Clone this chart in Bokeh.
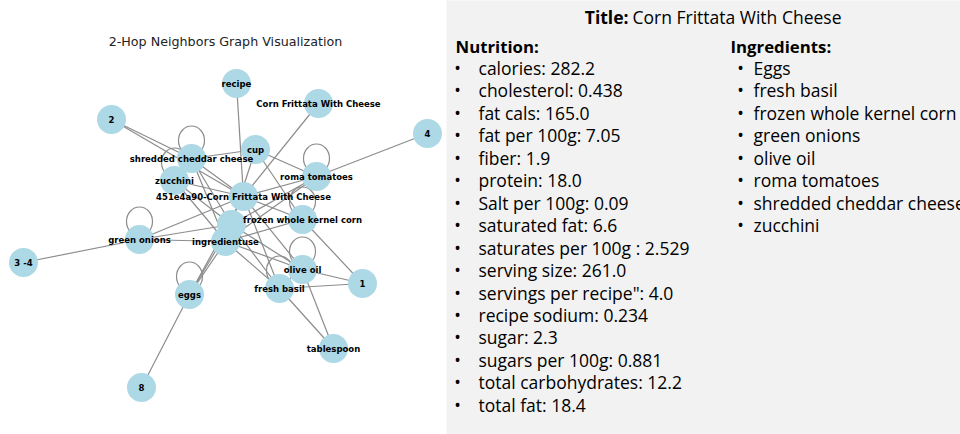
from bokeh.plotting import figure
from bokeh.models import Range1d, ColumnDataSource
from bokeh.embed import file_html
from bokeh.resources import INLINE
from bokeh.core.properties import value

# ---------------- data ----------------
graph_title = "2-Hop Neighbors Graph Visualization"
recipe_title = "Corn Frittata With Cheese"

node_names = ["recipe", "Corn Frittata With Cheese", "2", "4", "cup",
              "shredded cheddar cheese", "zucchini", "roma tomatoes",
              "451e4a90-Corn Frittata With Cheese", "frozen whole kernel corn",
              "use2", "ingredientuse", "green onions", "3 -4", "eggs",
              "olive oil", "fresh basil", "1", "tablespoon", "8"]
node_labels = ["recipe", "Corn Frittata With Cheese", "2", "4", "cup",
               "shredded cheddar cheese", "zucchini", "roma tomatoes",
               "451e4a90-Corn Frittata With Cheese", "frozen whole kernel corn",
               "", "ingredientuse", "green onions", "3 -4", "eggs",
               "olive oil", "fresh basil", "1", "tablespoon", "8"]
# layout positions
node_x = [236, 318, 111, 427, 255, 191, 174, 316, 243, 302,
          231, 225, 139, 23, 189, 302, 279, 362, 333, 141]
node_y = [83, 103, 119, 133, 149, 158, 180, 176, 196, 219,
          224, 241, 239, 262, 294, 269, 288, 283, 348, 387]

edge_src = ["recipe", "Corn Frittata With Cheese", "2", "2", "4", "3 -4", "8",
            "1", "1", "1", "tablespoon", "tablespoon",
            "cup", "cup", "cup", "cup",
            "451e4a90-Corn Frittata With Cheese", "451e4a90-Corn Frittata With Cheese",
            "451e4a90-Corn Frittata With Cheese", "451e4a90-Corn Frittata With Cheese",
            "451e4a90-Corn Frittata With Cheese", "451e4a90-Corn Frittata With Cheese",
            "451e4a90-Corn Frittata With Cheese", "451e4a90-Corn Frittata With Cheese",
            "ingredientuse", "ingredientuse", "ingredientuse", "ingredientuse",
            "ingredientuse", "ingredientuse", "ingredientuse", "ingredientuse",
            "use2", "use2", "use2", "use2", "use2", "use2", "use2"]
edge_dst = ["451e4a90-Corn Frittata With Cheese", "451e4a90-Corn Frittata With Cheese",
            "shredded cheddar cheese", "451e4a90-Corn Frittata With Cheese",
            "roma tomatoes", "green onions", "eggs",
            "olive oil", "fresh basil", "frozen whole kernel corn",
            "olive oil", "fresh basil",
            "shredded cheddar cheese", "roma tomatoes", "frozen whole kernel corn", "ingredientuse",
            "shredded cheddar cheese", "zucchini", "roma tomatoes", "frozen whole kernel corn",
            "green onions", "eggs", "olive oil", "fresh basil",
            "green onions", "eggs", "shredded cheddar cheese", "zucchini",
            "roma tomatoes", "frozen whole kernel corn", "olive oil", "fresh basil",
            "eggs", "zucchini", "shredded cheddar cheese", "roma tomatoes",
            "green onions", "fresh basil", "olive oil"]
loop_nodes = ["shredded cheddar cheese", "zucchini", "roma tomatoes",
              "frozen whole kernel corn", "green onions", "eggs", "olive oil",
              "fresh basil"]

nutrition_items = ["calories: 282.2", "cholesterol: 0.438", "fat cals: 165.0",
                   "fat per 100g: 7.05", "fiber: 1.9", "protein: 18.0",
                   "Salt per 100g: 0.09", "saturated fat: 6.6",
                   "saturates per 100g : 2.529", "serving size: 261.0",
                   'servings per recipe": 4.0', "recipe sodium: 0.234",
                   "sugar: 2.3", "sugars per 100g: 0.881",
                   "total carbohydrates: 12.2", "total fat: 18.4"]
ingredient_items = ["Eggs", "fresh basil", "frozen whole kernel corn",
                    "green onions", "olive oil", "roma tomatoes",
                    "shredded cheddar cheese", "zucchini"]

# ---------------- styles ----------------
NODE_COLOR = "#add8e6"
EDGE_COLOR = "#8c8c8c"
PANEL_COLOR = "#f2f2f2"
GFONT = value("DejaVu Sans")
TFONT = value("Open Sans")
TSIZE = "17.5px"
HSIZE = "16.8px"
ROW0 = 67.5
ROW_STEP = 22.45
W, H = 960, 434

p = figure(width=W, height=H, x_range=Range1d(0, W), y_range=Range1d(H, 0),
           output_backend="svg", toolbar_location=None, min_border=0,
           x_axis_location=None, y_axis_location=None)
p.grid.visible = False
p.outline_line_color = None
p.background_fill_color = "white"
p.border_fill_color = "white"

# right text panel background
p.quad(left=[446], right=[W + 10], top=[-10], bottom=[H + 10], fill_color=PANEL_COLOR, line_color=None)

# ---------------- graph ----------------
idx = {n: i for i, n in enumerate(node_names)}
esrc = ColumnDataSource(dict(
    x0=[node_x[idx[s]] for s in edge_src], y0=[node_y[idx[s]] for s in edge_src],
    x1=[node_x[idx[d]] for d in edge_dst], y1=[node_y[idx[d]] for d in edge_dst]))
p.segment("x0", "y0", "x1", "y1", source=esrc, line_color=EDGE_COLOR, line_width=1.2)

lsrc = ColumnDataSource(dict(x=[node_x[idx[n]] for n in loop_nodes],
                             y=[node_y[idx[n]] - 18 for n in loop_nodes]))
p.ellipse("x", "y", width=26, height=29, source=lsrc, fill_color=None,
          line_color=EDGE_COLOR, line_width=1.2)

nsrc = ColumnDataSource(dict(x=node_x, y=node_y, label=node_labels))
p.circle("x", "y", radius=14.5, source=nsrc, fill_color=NODE_COLOR, line_color=None)
p.text("x", "y", text="label", source=nsrc, text_font=GFONT, text_font_style="bold",
       text_font_size="8.5px", text_align="center", text_baseline="middle", text_color="black")

p.text(x=[225], y=[41], text=[graph_title], text_font=GFONT, text_font_size="12.7px",
       text_align="center", text_baseline="middle", text_color="#222222")

# ---------------- text panel ----------------
p.text(x=[628], y=[16], text=["Title:"], text_font=TFONT, text_font_style="bold",
       text_font_size=TSIZE, text_align="right", text_baseline="middle", text_color="black")
p.text(x=[632], y=[16], text=[recipe_title], text_font=TFONT,
       text_font_size=TSIZE, text_align="left", text_baseline="middle", text_color="black")

p.text(x=[455], y=[45.5], text=["Nutrition:"], text_font=TFONT, text_font_style="bold",
       text_font_size=HSIZE, text_align="left", text_baseline="middle", text_color="black")
p.text(x=[730], y=[45.5], text=["Ingredients:"], text_font=TFONT, text_font_style="bold",
       text_font_size=HSIZE, text_align="left", text_baseline="middle", text_color="black")

ny = [ROW0 + i * ROW_STEP for i in range(len(nutrition_items))]
p.text(x=[457] * len(ny), y=ny, text=["\u2022"] * len(ny), text_font=TFONT,
       text_font_size=TSIZE, text_align="center", text_baseline="middle", text_color="black")
p.text(x=[478] * len(ny), y=ny, text=nutrition_items, text_font=TFONT,
       text_font_size=TSIZE, text_align="left", text_baseline="middle", text_color="black")

iy = [ROW0 + i * ROW_STEP for i in range(len(ingredient_items))]
p.text(x=[740] * len(iy), y=iy, text=["\u2022"] * len(iy), text_font=TFONT,
       text_font_size=TSIZE, text_align="center", text_baseline="middle", text_color="black")
p.text(x=[753] * len(iy), y=iy, text=ingredient_items, text_font=TFONT,
       text_font_size=TSIZE, text_align="left", text_baseline="middle", text_color="black")

open("out.html", "w").write(file_html(p, INLINE))
